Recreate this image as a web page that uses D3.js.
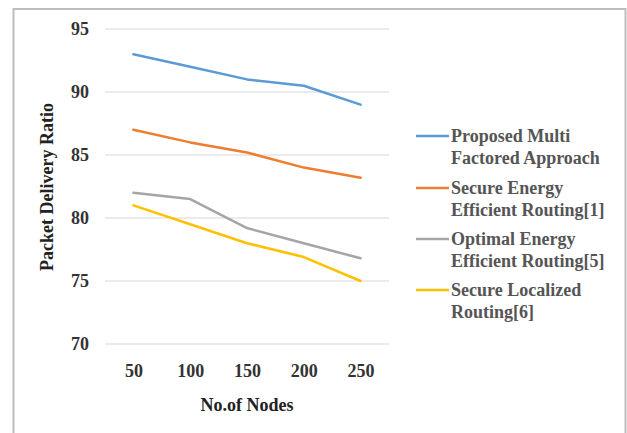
<!DOCTYPE html>
<html><head><meta charset="utf-8">
<script src="https://cdn.jsdelivr.net/npm/d3@7"></script>
<style>body{margin:0;background:#fff}svg{display:block}
svg text{font-family:"Liberation Serif","Times New Roman",Tinos,"DejaVu Serif",serif;font-weight:bold}</style>
</head><body>
<script>
const categories = ["50","100","150","200","250"];
const seriesNames = [
  ["Proposed Multi","Factored Approach"],
  ["Secure Energy","Efficient Routing[1]"],
  ["Optimal Energy","Efficient Routing[5]"],
  ["Secure Localized","Routing[6]"]
];
const proposed = [93, 92, 91, 90.5, 89];
const secureEnergy = [87, 86, 85.2, 84, 83.2];
const optimalEnergy = [82, 81.5, 79.2, 78, 76.8];
const secureLocalized = [81, 79.5, 78, 76.9, 75];
const yTicks = [70, 75, 80, 85, 90, 95];
const colors = ["#5B9BD5","#ED7D31","#A5A5A5","#FFC000"];
const allSeries = [proposed, secureEnergy, optimalEnergy, secureLocalized];

const W = 627, H = 433;
const svg = d3.select("body").append("svg").attr("width", W).attr("height", H);
svg.append("rect").attr("x",13.5).attr("y",9).attr("width",612).attr("height",440)
  .attr("fill","none").attr("stroke","#bdbdbd").attr("stroke-width",2);

const x = d3.scalePoint().domain(categories).range([105, 389]).padding(0.5);
const y = d3.scaleLinear().domain([70, 95]).range([344, 29]);

svg.append("g").selectAll("line").data(yTicks).join("line")
  .attr("x1",105).attr("x2",389).attr("y1",d=>y(d)).attr("y2",d=>y(d))
  .attr("stroke","#e4e4e4").attr("stroke-width",1.5);

// y axis
const ya = svg.append("g").attr("transform","translate(89,0)")
  .call(d3.axisLeft(y).tickValues(yTicks).tickSize(0).tickPadding(0));
ya.select(".domain").remove();
ya.attr("font-family",null);
ya.selectAll("text").attr("font-size",18).attr("fill","#333");

// x axis
const xa = svg.append("g").attr("transform","translate(0,364)")
  .call(d3.axisBottom(x).tickSize(0).tickPadding(0));
xa.select(".domain").remove();
xa.attr("font-family",null);
xa.selectAll("text").attr("font-size",18).attr("fill","#333");

// titles
svg.append("text").attr("transform","translate(53,187) rotate(-90)")
  .attr("text-anchor","middle").attr("font-size",18).attr("fill","#222").text("Packet Delivery Ratio");
svg.append("text").attr("x",247).attr("y",411)
  .attr("text-anchor","middle").attr("font-size",18).attr("fill","#222").text("No.of Nodes");

// lines
const line = d3.line().x((d,i)=>x(categories[i])).y(d=>y(d));
svg.selectAll("path.series").data(allSeries).join("path").attr("class","series")
  .attr("d",line).attr("fill","none").attr("stroke",(d,i)=>colors[i])
  .attr("stroke-width",2.5).attr("stroke-linejoin","round").attr("stroke-linecap","round");

// legend
const legY = [136, 188, 239, 290];
const leg = svg.selectAll("g.leg").data(seriesNames).join("g").attr("class","leg")
  .attr("transform",(d,i)=>`translate(0,${legY[i]})`);
leg.append("line").attr("x1",416).attr("x2",449).attr("y1",0).attr("y2",0)
  .attr("stroke",(d,i)=>colors[i]).attr("stroke-width",2.5);
leg.each(function(d){
  const t = d3.select(this).append("text").attr("font-size",18).attr("fill","#555");
  d.forEach((s,j)=>t.append("tspan").attr("x",451).attr("y",6+j*22).text(s));
});
</script>
</body></html>
